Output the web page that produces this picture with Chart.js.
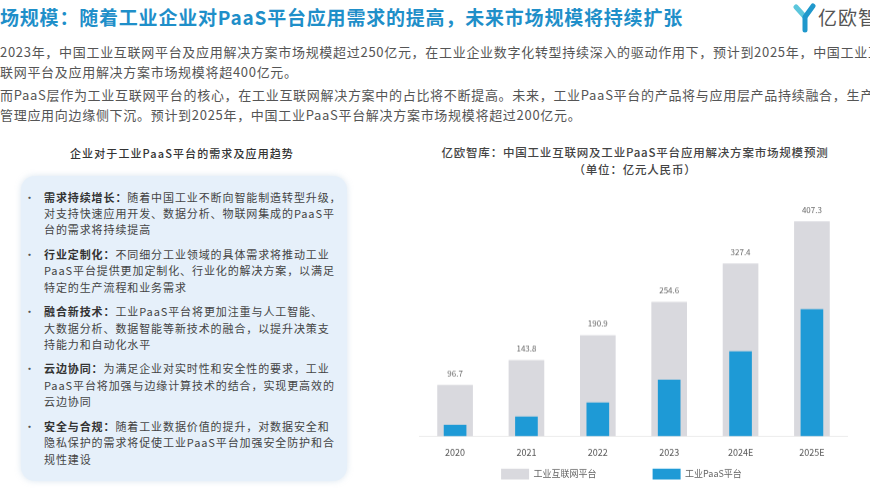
<!DOCTYPE html>
<html>
<head>
<meta charset="utf-8">
<script src="https://cdn.jsdelivr.net/npm/chart.js@4.4.1/dist/chart.umd.min.js"></script>
<style>
  html,body{margin:0;padding:0;}
  body{width:870px;height:492px;overflow:hidden;background:#fff;position:relative;font-family:"Noto Sans CJK SC","Noto Sans",sans-serif;}
  .abs{position:absolute;white-space:nowrap;}
  #title{left:0;top:5px;font-size:19px;line-height:24px;font-weight:700;color:#1f8fc9;letter-spacing:0.8px;}
  .para{left:0;font-size:13px;line-height:18px;color:#555;letter-spacing:0.7px;}
  #logoText{left:818px;top:4px;font-size:19px;line-height:26px;color:#555;letter-spacing:1px;}
  #leftHead{left:0;width:364px;text-align:center;top:145px;font-size:11px;line-height:16px;color:#333;letter-spacing:1.1px;font-weight:500;}
  #box{position:absolute;left:21px;top:176px;width:326px;height:305px;border-radius:14px;background:#e6f0fa;box-shadow:0 0 6px rgba(150,180,210,0.35);}
  #bullets{position:absolute;left:0;top:188.5px;}
  .item{position:relative;margin-bottom:8.1px;}
  .line{font-size:11px;line-height:16.4px;color:#444;letter-spacing:0.9px;white-space:nowrap;padding-left:44px;}
  .dot{position:absolute;left:24px;top:0;font-size:11px;line-height:16.4px;color:#555;}
  .line b{color:#333;font-weight:700;}
  #chartTitle{left:400px;width:470px;text-align:center;top:144px;font-size:11.5px;line-height:17.3px;color:#444;font-weight:500;letter-spacing:0.8px;}
  #chartWrap{position:absolute;left:400px;top:190px;width:470px;height:298.5px;}
</style>
</head>
<body>
<div id="title" class="abs">场规模：随着工业企业对PaaS平台应用需求的提高，未来市场规模将持续扩张</div>
<svg class="abs" style="left:793px;top:3px" width="24" height="30" viewBox="0 0 24 30">
  <path d="M3 4 L12 14" stroke="#5cc6dc" stroke-width="5" stroke-linecap="round" fill="none"/>
  <path d="M20 3 L12 14 L12 27" stroke="#1f98cc" stroke-width="5" stroke-linecap="round" stroke-linejoin="round" fill="none"/>
</svg>
<div id="logoText" class="abs">亿欧智库</div>

<div class="abs para" style="top:42.7px">2023年，中国工业互联网平台及应用解决方案市场规模超过250亿元，在工业企业数字化转型持续深入的驱动作用下，预计到2025年，中国工业互</div>
<div class="abs para" style="top:62.7px">联网平台及应用解决方案市场规模将超400亿元。</div>
<div class="abs para" style="top:86px">而PaaS层作为工业互联网平台的核心，在工业互联网解决方案中的占比将不断提高。未来，工业PaaS平台的产品将与应用层产品持续融合，生产</div>
<div class="abs para" style="top:106px">管理应用向边缘侧下沉。预计到2025年，中国工业PaaS平台解决方案市场规模将超过200亿元。</div>

<div id="leftHead" class="abs">企业对于工业PaaS平台的需求及应用趋势</div>
<div id="box"></div>
<div id="bullets">
  <div class="item"><span class="dot">•</span>
    <div class="line"><b>需求持续增长：</b>随着中国工业不断向智能制造转型升级，</div>
    <div class="line">对支持快速应用开发、数据分析、物联网集成的PaaS平</div>
    <div class="line">台的需求将持续提高</div>
  </div>
  <div class="item"><span class="dot">•</span>
    <div class="line"><b>行业定制化：</b>不同细分工业领域的具体需求将推动工业</div>
    <div class="line">PaaS平台提供更加定制化、行业化的解决方案，以满足</div>
    <div class="line">特定的生产流程和业务需求</div>
  </div>
  <div class="item"><span class="dot">•</span>
    <div class="line"><b>融合新技术：</b>工业PaaS平台将更加注重与人工智能、</div>
    <div class="line">大数据分析、数据智能等新技术的融合，以提升决策支</div>
    <div class="line">持能力和自动化水平</div>
  </div>
  <div class="item"><span class="dot">•</span>
    <div class="line"><b>云边协同：</b>为满足企业对实时性和安全性的要求，工业</div>
    <div class="line">PaaS平台将加强与边缘计算技术的结合，实现更高效的</div>
    <div class="line">云边协同</div>
  </div>
  <div class="item"><span class="dot">•</span>
    <div class="line"><b>安全与合规：</b>随着工业数据价值的提升，对数据安全和</div>
    <div class="line">隐私保护的需求将促使工业PaaS平台加强安全防护和合</div>
    <div class="line">规性建设</div>
  </div>
</div>

<div id="chartTitle" class="abs">亿欧智库：中国工业互联网及工业PaaS平台应用解决方案市场规模预测<br>（单位：亿元人民币）</div>
<div id="chartWrap"><canvas id="c"></canvas></div>

<script>
const categories = ['2020', '2021', '2022', '2023', '2024E', '2025E'];
const seriesNames = ['工业互联网平台', '工业PaaS平台'];
const platformValues = [96.7, 143.8, 190.9, 254.6, 327.4, 407.3];
const paasValues = [21.0, 36.8, 63.4, 106.5, 160.4, 240.9];
const yMax = 430;

const FONT = '"Noto Sans CJK SC", "Noto Sans", sans-serif';

const valueLabels = {
  id: 'valueLabels',
  afterDatasetsDraw(chart) {
    const meta = chart.getDatasetMeta(0);
    const ctx = chart.ctx;
    ctx.save();
    ctx.font = '8px ' + FONT;
    ctx.fillStyle = '#666';
    ctx.textAlign = 'center';
    ctx.textBaseline = 'middle';
    meta.data.forEach((bar, i) => {
      ctx.fillText(platformValues[i].toFixed(1), bar.x, bar.y - 12);
    });
    ctx.restore();
  }
};

new Chart(document.getElementById('c'), {
  type: 'bar',
  data: {
    labels: categories,
    datasets: [
      {
        label: seriesNames[0],
        data: platformValues,
        backgroundColor: '#d9d9de',
        barThickness: 35,
        grouped: false,
        order: 1,
        borderWidth: 0
      },
      {
        label: seriesNames[1],
        data: paasValues,
        backgroundColor: '#1e9ad6',
        barThickness: 22,
        grouped: false,
        order: 0,
        borderWidth: 0
      }
    ]
  },
  options: {
    responsive: true,
    maintainAspectRatio: false,
    animation: false,
    layout: { padding: { left: 19.4, right: 22.4, top: 19.8, bottom: 0 } },
    scales: {
      x: {
        grid: { display: false, drawTicks: false },
        border: { display: true, color: '#ececec', width: 1 },
        ticks: { color: '#555', padding: 10.7, font: { family: FONT, size: 9 } }
      },
      y: { display: false, min: 0, max: yMax }
    },
    plugins: {
      tooltip: { enabled: false },
      legend: {
        position: 'bottom',
        labels: {
          boxWidth: 28,
          boxHeight: 11,
          padding: 0,
          color: '#666',
          font: { family: FONT, size: 9 },
          sort: (a, b) => a.datasetIndex - b.datasetIndex,
          generateLabels(chart) {
            const items = Chart.defaults.plugins.legend.labels.generateLabels(chart);
            items.forEach(it => {
              it.text = it.text + (it.datasetIndex === 0 ? '\u3000\u3000\u3000\u3000\u3000\u3000 ' : '\u3000\u3000   ');
            });
            return items;
          }
        }
      }
    }
  },
  plugins: [valueLabels]
});
</script>
</body>
</html>
